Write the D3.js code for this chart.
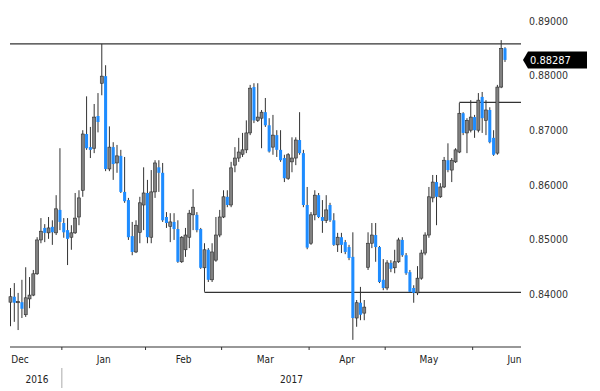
<!DOCTYPE html>
<html>
<head>
<meta charset="utf-8">
<script src="https://cdn.jsdelivr.net/npm/d3@7"></script>
<style>
body { margin: 0; background: #fff; }
text { font-family: "DejaVu Sans Condensed", "DejaVu Sans", sans-serif; }
</style>
</head>
<body>
<div id="chart"></div>
<script>
// daily candles, Dec 13 2016 .. Jun 13 2017 (weekdays)
var startDate = new Date(2016, 11, 13);
var endDate = new Date(2017, 5, 13);

var openVals = [
.8385,.8395,.8384,.8385,.8362,.8391,.8398,.8437,.8499,.8521,
.8512,.8523,.8512,.8554,.8530,.8517,.8504,.8512,.8541,.8590,
.8693,.8669,.8667,.8726,.8786,.8799,.8629,.8669,.8640,.8653,
.8587,.8572,.8506,.8477,.8513,.8563,.8585,.8504,.8587,.8632,
.8622,.8541,.8524,.8532,.8519,.8459,.8481,.8504,.8545,.8545,
.8519,.8448,.8481,.8426,.8462,.8508,.8541,.8578,.8563,.8636,
.8649,.8656,.8664,.8695,.8779,.8718,.8722,.8733,.8709,.8669,
.8691,.8664,.8649,.8612,.8642,.8649,.8682,.8658,.8563,.8493,
.8545,.8581,.8541,.8535,.8563,.8535,.8490,.8504,.8495,.8486,
.8468,.8356,.8384,.8365,.8449,.8493,.8508,.8486,.8426,.8411,
.8457,.8448,.8459,.8499,.8471,.8440,.8411,.8402,.8429,.8475,
.8508,.8576,.8605,.8578,.8596,.8645,.8627,.8642,.8660,.8731,
.8695,.8700,.8724,.8700,.8761,.8718,.8737,.8686,.8658,.8779,
.8850];

var highVals = [
.8411,.8420,.8402,.8426,.8449,.8431,.8444,.8504,.8539,.8528,
.8541,.8535,.8581,.8667,.8539,.8539,.8526,.8585,.8590,.8700,
.8762,.8706,.8748,.8768,.8858,.8819,.8707,.8678,.8673,.8664,
.8651,.8576,.8532,.8535,.8578,.8632,.8609,.8627,.8645,.8645,
.8640,.8550,.8548,.8548,.8535,.8506,.8521,.8554,.8592,.8550,
.8521,.8493,.8484,.8493,.8541,.8554,.8590,.8590,.8642,.8669,
.8686,.8695,.8718,.8783,.8786,.8786,.8737,.8759,.8722,.8728,
.8700,.8700,.8655,.8658,.8687,.8687,.8733,.8664,.8596,.8550,
.8590,.8585,.8572,.8581,.8567,.8548,.8512,.8512,.8499,.8490,
.8513,.8389,.8413,.8389,.8513,.8530,.8530,.8488,.8464,.8462,
.8462,.8481,.8503,.8504,.8475,.8444,.8416,.8451,.8481,.8513,
.8596,.8618,.8618,.8603,.8651,.8676,.8649,.8667,.8750,.8733,
.8722,.8755,.8728,.8768,.8770,.8755,.8742,.8700,.8783,.8865,
.8852];

var lowVals = [
.8341,.8349,.8334,.8356,.8358,.8374,.8396,.8435,.8493,.8495,
.8501,.8490,.8508,.8517,.8503,.8453,.8481,.8510,.8526,.8578,
.8664,.8649,.8658,.8696,.8764,.8625,.8625,.8609,.8622,.8585,
.8567,.8499,.8471,.8475,.8493,.8517,.8493,.8493,.8576,.8587,
.8532,.8521,.8495,.8499,.8457,.8457,.8468,.8484,.8517,.8513,
.8446,.8404,.8422,.8422,.8459,.8504,.8539,.8559,.8559,.8623,
.8642,.8651,.8658,.8691,.8713,.8715,.8667,.8706,.8659,.8655,
.8651,.8642,.8605,.8609,.8623,.8636,.8655,.8559,.8482,.8490,
.8535,.8539,.8512,.8530,.8532,.8488,.8477,.8475,.8473,.8462,
.8316,.8340,.8352,.8352,.8444,.8484,.8459,.8420,.8407,.8407,
.8440,.8438,.8457,.8468,.8435,.8402,.8384,.8398,.8426,.8471,
.8503,.8568,.8526,.8576,.8594,.8623,.8605,.8640,.8658,.8691,
.8658,.8696,.8686,.8696,.8695,.8691,.8676,.8653,.8655,.8777,
.8825];

var closeVals = [
.8395,.8384,.8386,.8373,.8393,.8398,.8437,.8499,.8515,.8512,
.8521,.8513,.8556,.8532,.8513,.8501,.8512,.8539,.8576,.8693,
.8667,.8664,.8724,.8715,.8799,.8629,.8669,.8638,.8653,.8587,
.8570,.8504,.8477,.8526,.8567,.8585,.8504,.8587,.8640,.8622,
.8535,.8530,.8532,.8519,.8459,.8504,.8508,.8548,.8559,.8517,
.8448,.8481,.8426,.8477,.8508,.8541,.8578,.8563,.8631,.8649,
.8660,.8664,.8695,.8777,.8718,.8724,.8733,.8709,.8661,.8691,
.8664,.8645,.8612,.8655,.8649,.8682,.8658,.8563,.8485,.8545,
.8581,.8541,.8534,.8554,.8535,.8490,.8504,.8490,.8477,.8466,
.8356,.8384,.8362,.8376,.8493,.8508,.8486,.8422,.8411,.8457,
.8446,.8459,.8499,.8471,.8438,.8404,.8402,.8429,.8475,.8508,
.8578,.8605,.8578,.8596,.8645,.8627,.8645,.8664,.8731,.8695,
.8718,.8724,.8700,.8755,.8722,.8737,.8678,.8655,.8779,.8850,
.88287];

var yTicks = [0.84, 0.85, 0.86, 0.87, 0.88, 0.89];
var topLevel = 0.8858;
var midLevel = 0.8751, midStart = new Date(2017, 4, 26);
var lowLevel = 0.8403, lowStart = new Date(2017, 1, 22);
var lastPrice = 0.88287;

function weekdays(a, b) {
    return d3.timeDay.range(a, d3.timeDay.offset(b, 1))
        .filter(function(d) { var w = d.getDay(); return w > 0 && w < 6; });
}
var dates = weekdays(startDate, endDate);
var data = dates.map(function(d, i) {
    return { date: d, o: openVals[i], h: highVals[i], l: lowVals[i], c: closeVals[i] };
});

var width = 600, height = 391;
var left = 10, right = 521, axisY = 347;

var svg = d3.select("#chart").append("svg")
    .attr("width", width)
    .attr("height", height);

var x = d3.scaleBand()
    .domain(dates)
    .range([8.6, 506.9])
    .paddingInner(0.2)
    .paddingOuter(0.1);
var step = x.step();
var x0 = x(dates[0]) + x.bandwidth() / 2;
function cx(d) { return x(d) + x.bandwidth() / 2; }
function xi(i) { return x0 + i * step; }   // index -> x, also outside the data

var y = d3.scaleLinear().domain([0.84, 0.89]).range([294, 21]);

// horizontal levels
svg.append("line")
    .attr("x1", left).attr("x2", right)
    .attr("y1", y(topLevel)).attr("y2", y(topLevel))
    .attr("stroke", "#333").attr("stroke-width", 1.2);
svg.append("line")
    .attr("x1", cx(midStart)).attr("x2", right)
    .attr("y1", y(midLevel)).attr("y2", y(midLevel))
    .attr("stroke", "#333").attr("stroke-width", 1.2);
svg.append("line")
    .attr("x1", cx(lowStart)).attr("x2", right)
    .attr("y1", y(lowLevel)).attr("y2", y(lowLevel))
    .attr("stroke", "#333").attr("stroke-width", 1.2);

// candles
var candle = svg.selectAll(".candle")
    .data(data)
    .enter().append("g")
    .attr("class", "candle");

candle.append("line")
    .attr("x1", function(d) { return cx(d.date); })
    .attr("x2", function(d) { return cx(d.date); })
    .attr("y1", function(d) { return y(d.h); })
    .attr("y2", function(d) { return y(d.l); })
    .attr("stroke", "#333")
    .attr("stroke-width", 1);

candle.append("rect")
    .attr("x", function(d) { return x(d.date); })
    .attr("width", x.bandwidth())
    .attr("y", function(d) { return y(Math.max(d.o, d.c)); })
    .attr("height", function(d) { return Math.max(1, Math.abs(y(d.o) - y(d.c))); })
    .attr("fill", function(d) { return d.c >= d.o ? "#808080" : "#1e8cff"; })
    .attr("stroke", function(d) { return d.c >= d.o ? "#2a2a2a" : "none"; })
    .attr("stroke-width", 0.6);

// right axis
var yAxis = d3.axisRight(y)
    .tickValues(yTicks)
    .tickFormat(d3.format(".5f"))
    .tickSize(0)
    .tickPadding(0);
var gy = svg.append("g")
    .attr("transform", "translate(529,0)")
    .call(yAxis);
gy.select(".domain").remove();
gy.selectAll("text")
    .attr("fill", "#333")
    .style("font-size", "10.5px");

// last price tag
var ly = y(lastPrice);
svg.append("path")
    .attr("d", "M523," + ly + "L528," + (ly - 8.5) + "L587," + (ly - 8.5) +
        "L587," + (ly + 8.5) + "L528," + (ly + 8.5) + "Z")
    .attr("fill", "#000");
svg.append("text")
    .attr("x", 530).attr("y", ly).attr("dy", "0.35em")
    .attr("fill", "#fff")
    .style("font-size", "11px")
    .text(d3.format(".5f")(lastPrice));

// bottom time axis
svg.append("line")
    .attr("x1", left).attr("x2", right)
    .attr("y1", axisY).attr("y2", axisY)
    .attr("stroke", "#333").attr("stroke-width", 1.2);

var allDays = weekdays(new Date(2016, 11, 1), new Date(2017, 5, 30));
var offset = allDays.findIndex(function(d) { return +d === +startDate; });
var months = d3.groups(allDays.map(function(d, i) { return { d: d, i: i - offset }; }),
    function(e) { return e.d.getFullYear() * 12 + e.d.getMonth(); });

var monthFmt = d3.timeFormat("%b");
months.forEach(function(m, k) {
    var items = m[1];
    var first = items[0].i, last = items[items.length - 1].i;
    if (k > 0) {
        svg.append("line")
            .attr("x1", xi(first - 0.5)).attr("x2", xi(first - 0.5))
            .attr("y1", axisY).attr("y2", axisY + 3)
            .attr("stroke", "#333");
    }
    svg.append("text")
        .attr("x", xi((first + last) / 2))
        .attr("y", 363)
        .attr("text-anchor", "middle")
        .attr("fill", "#222")
        .style("font-size", "10px")
        .text(monthFmt(items[0].d));
});

// year labels
var yearSplit = xi(months[1][1][0].i - 0.5);
svg.append("line")
    .attr("x1", yearSplit).attr("x2", yearSplit)
    .attr("y1", 368).attr("y2", 388)
    .attr("stroke", "#aaa");
svg.append("text")
    .attr("x", (left + yearSplit) / 2 + 1).attr("y", 383)
    .attr("text-anchor", "middle").attr("fill", "#222")
    .style("font-size", "10px")
    .text("2016");
svg.append("text")
    .attr("x", (yearSplit + right) / 2).attr("y", 383)
    .attr("text-anchor", "middle").attr("fill", "#222")
    .style("font-size", "10px")
    .text("2017");
</script>
</body>
</html>
